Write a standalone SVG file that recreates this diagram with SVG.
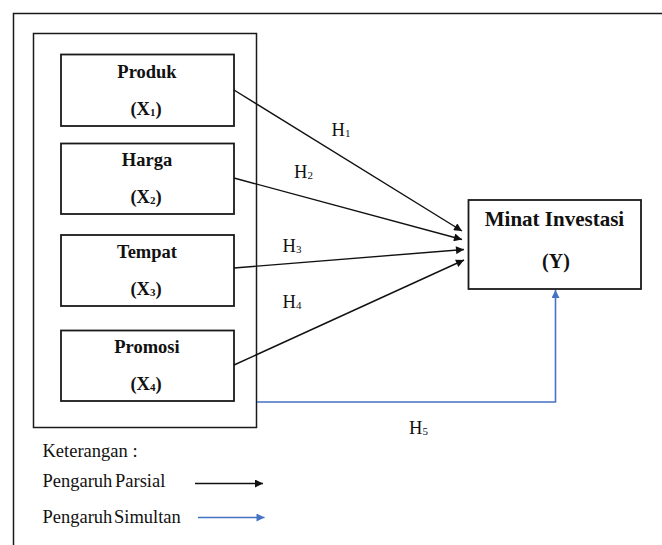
<svg xmlns="http://www.w3.org/2000/svg" width="662" height="545" viewBox="0 0 662 545">
<defs>
<style>
.box{fill:#fff;stroke:#1a1a1a;stroke-width:1.8}
.frame{fill:none;stroke:#1a1a1a;stroke-width:1.5}
text{font-family:'Liberation Serif','Times New Roman','DejaVu Serif',serif;fill:#111}
.nb{font-weight:bold;font-size:18.5px;text-anchor:middle}
.lbl{font-size:18.5px}
.sub{font-size:11px}
.leg{font-size:18.5px}
.blk{stroke:#111;stroke-width:1.4;fill:none}
.blu{stroke:#4472C4;stroke-width:1.6;fill:none}
</style>
<marker id="ab" viewBox="0 0 10 10" refX="10" refY="5" markerWidth="9" markerHeight="8" markerUnits="userSpaceOnUse" orient="auto">
<path d="M0,0 L10,5 L0,10 z" fill="#111"/>
</marker>
<marker id="au" viewBox="0 0 10 10" refX="10" refY="5" markerWidth="9" markerHeight="8" markerUnits="userSpaceOnUse" orient="auto">
<path d="M0,0 L10,5 L0,10 z" fill="#4472C4"/>
</marker>
</defs>
<rect width="662" height="545" fill="#fff"/>
<rect class="frame" x="13.5" y="13.5" width="700" height="600"/>
<rect id="group" class="frame" x="33.5" y="33.5" width="223" height="394"/>

<g id="produk">
<rect class="box" x="61" y="54.5" width="173" height="71.5"/>
<text class="nb" x="147" y="77.5">Produk</text>
<text class="nb" x="146" y="115">(X<tspan class="sub" dy="1">1</tspan><tspan dy="-1">)</tspan></text>
</g>
<g id="harga">
<rect class="box" x="61" y="143.5" width="173" height="70.5"/>
<text class="nb" x="147" y="166">Harga</text>
<text class="nb" x="146" y="203">(X<tspan class="sub" dy="1">2</tspan><tspan dy="-1">)</tspan></text>
</g>
<g id="tempat">
<rect class="box" x="61" y="235" width="173" height="71"/>
<text class="nb" x="147" y="258">Tempat</text>
<text class="nb" x="146" y="295">(X<tspan class="sub" dy="1">3</tspan><tspan dy="-1">)</tspan></text>
</g>
<g id="promosi">
<rect class="box" x="61" y="330.5" width="173" height="70.5"/>
<text class="nb" x="147" y="353">Promosi</text>
<text class="nb" x="146" y="390">(X<tspan class="sub" dy="1">4</tspan><tspan dy="-1">)</tspan></text>
</g>
<g id="minat">
<rect class="box" x="468.5" y="200" width="172.5" height="89"/>
<text class="nb" x="554.5" y="226" style="font-size:21px">Minat Investasi</text>
<text class="nb" x="556" y="268" style="font-size:20px">(Y)</text>
</g>

<g id="connectors">
<line class="blk" x1="234" y1="90" x2="462" y2="231" marker-end="url(#ab)"/>
<line class="blk" x1="234" y1="178" x2="462" y2="239.5" marker-end="url(#ab)"/>
<line class="blk" x1="234" y1="268" x2="464" y2="249.5" marker-end="url(#ab)"/>
<line class="blk" x1="234" y1="365" x2="464" y2="260" marker-end="url(#ab)"/>
<polyline class="blu" points="257,402 555.5,402 555.5,290" marker-end="url(#au)"/>
<text class="lbl" x="331.5" y="136">H<tspan class="sub" dy="1">1</tspan></text>
<text class="lbl" x="294" y="178">H<tspan class="sub" dy="1">2</tspan></text>
<text class="lbl" x="282.5" y="252">H<tspan class="sub" dy="1">3</tspan></text>
<text class="lbl" x="282.5" y="308">H<tspan class="sub" dy="1">4</tspan></text>
<text class="lbl" x="409" y="433.5">H<tspan class="sub" dy="1">5</tspan></text>
</g>

<g id="legend">
<text class="leg" x="42.5" y="456.5">Keterangan :</text>
<text class="leg" x="42.5" y="486.5" style="word-spacing:-2px">Pengaruh Parsial</text>
<line class="blk" x1="195" y1="483.5" x2="263" y2="483.5" marker-end="url(#ab)"/>
<text class="leg" x="42.5" y="522.5" style="word-spacing:-3px">Pengaruh Simultan</text>
<line class="blu" x1="198" y1="517.5" x2="264.5" y2="517.5" marker-end="url(#au)"/>
</g>
</svg>
